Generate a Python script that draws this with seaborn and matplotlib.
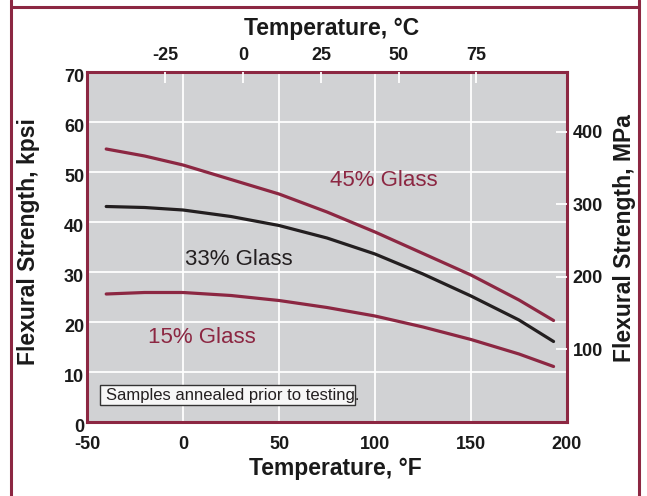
import matplotlib
matplotlib.use("Agg")
import matplotlib.pyplot as plt
import matplotlib.transforms as mtransforms
from matplotlib.patches import Rectangle
from matplotlib.lines import Line2D
import seaborn as sns
import pandas as pd

# ---- data ----
temp_f = [-40, -20, 0, 25, 50, 75, 100, 125, 150, 175, 193]
glass45 = [54.6, 53.2, 51.4, 48.5, 45.6, 42.0, 38.0, 33.7, 29.4, 24.4, 20.3]
glass33 = [43.1, 42.9, 42.4, 41.1, 39.3, 36.8, 33.6, 29.6, 25.2, 20.4, 16.1]
glass15 = [25.6, 25.9, 25.9, 25.3, 24.3, 22.9, 21.2, 19.0, 16.5, 13.6, 11.1]
series_names = ["45% Glass", "33% Glass", "15% Glass"]

x_ticks_f = [-50, 0, 50, 100, 150, 200]
y_ticks_kpsi = [0, 10, 20, 30, 40, 50, 60, 70]
top_ticks_c = [-25, 0, 25, 50, 75]
right_ticks_mpa = [100, 200, 300, 400]

MAROON = "#8c2742"
DARK = "#231f20"
PANEL = "#d1d2d4"

sns.set_theme(style="white")
plt.rcParams["font.family"] = ["Liberation Sans", "DejaVu Sans"]
plt.rcParams["axes.unicode_minus"] = False

df = pd.DataFrame({
    "temp": temp_f * 3,
    "strength": glass45 + glass33 + glass15,
    "series": [series_names[0]] * len(temp_f) + [series_names[1]] * len(temp_f) + [series_names[2]] * len(temp_f),
})

fig = plt.figure(figsize=(6.47, 4.96), dpi=100)
ax = fig.add_axes([87 / 647, 1 - 422 / 496, 480 / 647, 350 / 496])
ax.set_facecolor(PANEL)

palette = {series_names[0]: MAROON, series_names[1]: DARK, series_names[2]: MAROON}
sns.lineplot(data=df, x="temp", y="strength", hue="series", palette=palette,
             linewidth=2.3, sort=False, legend=False, ax=ax, zorder=3)

ax.set_xlim(-50, 200)
ax.set_ylim(0, 70)
ax.set_xticks(x_ticks_f)
ax.set_yticks(y_ticks_kpsi)
ax.grid(True, color="white", linewidth=1.3)
ax.set_axisbelow(True)
ax.set_xlabel("")
ax.set_ylabel("")
ax.tick_params(axis="both", length=0, labelsize=13, colors="#1a1a1a")
ax.tick_params(axis="x", pad=10)
ax.tick_params(axis="y", pad=2)
for lab in ax.get_xticklabels() + ax.get_yticklabels():
    lab.set_fontweight("bold")
off = mtransforms.ScaledTranslation(0, -0.032, fig.dpi_scale_trans)
for lab in ax.get_yticklabels():
    lab.set_transform(lab.get_transform() + off)

for sp in ax.spines.values():
    sp.set_color(MAROON)
    sp.set_linewidth(2.2)
    sp.set_zorder(5)

# top axis (deg C) as drawn in the reference
axt = ax.twiny()
axt.set_xlim(-50.2, 104.1)
axt.set_xticks(top_ticks_c)
axt.tick_params(axis="x", direction="in", length=8, width=1.3, color="white",
                labelsize=13, pad=6, labelcolor="#1a1a1a")
for lab in axt.get_xticklabels():
    lab.set_fontweight("bold")
for sp in axt.spines.values():
    sp.set_visible(False)

# right axis (MPa)
axr = ax.twinx()
axr.set_ylim(0, 70 * 6.895)
axr.set_yticks(right_ticks_mpa)
axr.tick_params(axis="y", direction="in", length=8, width=1.3, color="white",
                labelsize=13, pad=4, labelcolor="#1a1a1a")
for lab in axr.get_yticklabels():
    lab.set_fontweight("bold")
for sp in axr.spines.values():
    sp.set_visible(False)
axr.grid(False)
axt.grid(False)

# series labels
ax.text(76.6, 48.2, "45% Glass", color=MAROON, fontsize=16, ha="left", va="center", zorder=4)
ax.text(1.2, 32.5, "33% Glass", color=DARK, fontsize=16, ha="left", va="center", zorder=4)
ax.text(-18.4, 16.9, "15% Glass", color=MAROON, fontsize=16, ha="left", va="center", zorder=4)

# note box
ax.add_patch(Rectangle((-43.1, 3.4), 132.8, 4.0, facecolor="#f7f7f7", edgecolor="#333333",
                       linewidth=1.0, zorder=4))
ax.text(-40.0, 5.3, "Samples annealed prior to testing.", color=DARK, fontsize=12,
        ha="left", va="center", zorder=6)

# axis titles
fig.text(335 / 647, 1 - 469 / 496, "Temperature, °F", fontsize=16.5, fontweight="bold",
         ha="center", va="center", color="#1a1a1a")
fig.text(332 / 647, 1 - 29 / 496, "Temperature, °C", fontsize=16.5, fontweight="bold",
         ha="center", va="center", color="#1a1a1a")
fig.text(29 / 647, 1 - 242 / 496, "Flexural Strength, kpsi", fontsize=16.5, fontweight="bold",
         ha="center", va="center", rotation=90, color="#1a1a1a")
fig.text(625 / 647, 1 - 238 / 496, "Flexural Strength, MPa", fontsize=16.5, fontweight="bold",
         ha="center", va="center", rotation=90, color="#1a1a1a")

# outer frame
fig.add_artist(Line2D([11 / 647, 11 / 647], [0, 1], color=MAROON, linewidth=2.2, transform=fig.transFigure))
fig.add_artist(Line2D([639 / 647, 639 / 647], [0, 1], color=MAROON, linewidth=2.2, transform=fig.transFigure))
fig.add_artist(Line2D([11 / 647, 639 / 647], [1 - 7 / 496, 1 - 7 / 496], color=MAROON, linewidth=2.2,
                      transform=fig.transFigure))

fig.savefig("out.png", dpi=100)
